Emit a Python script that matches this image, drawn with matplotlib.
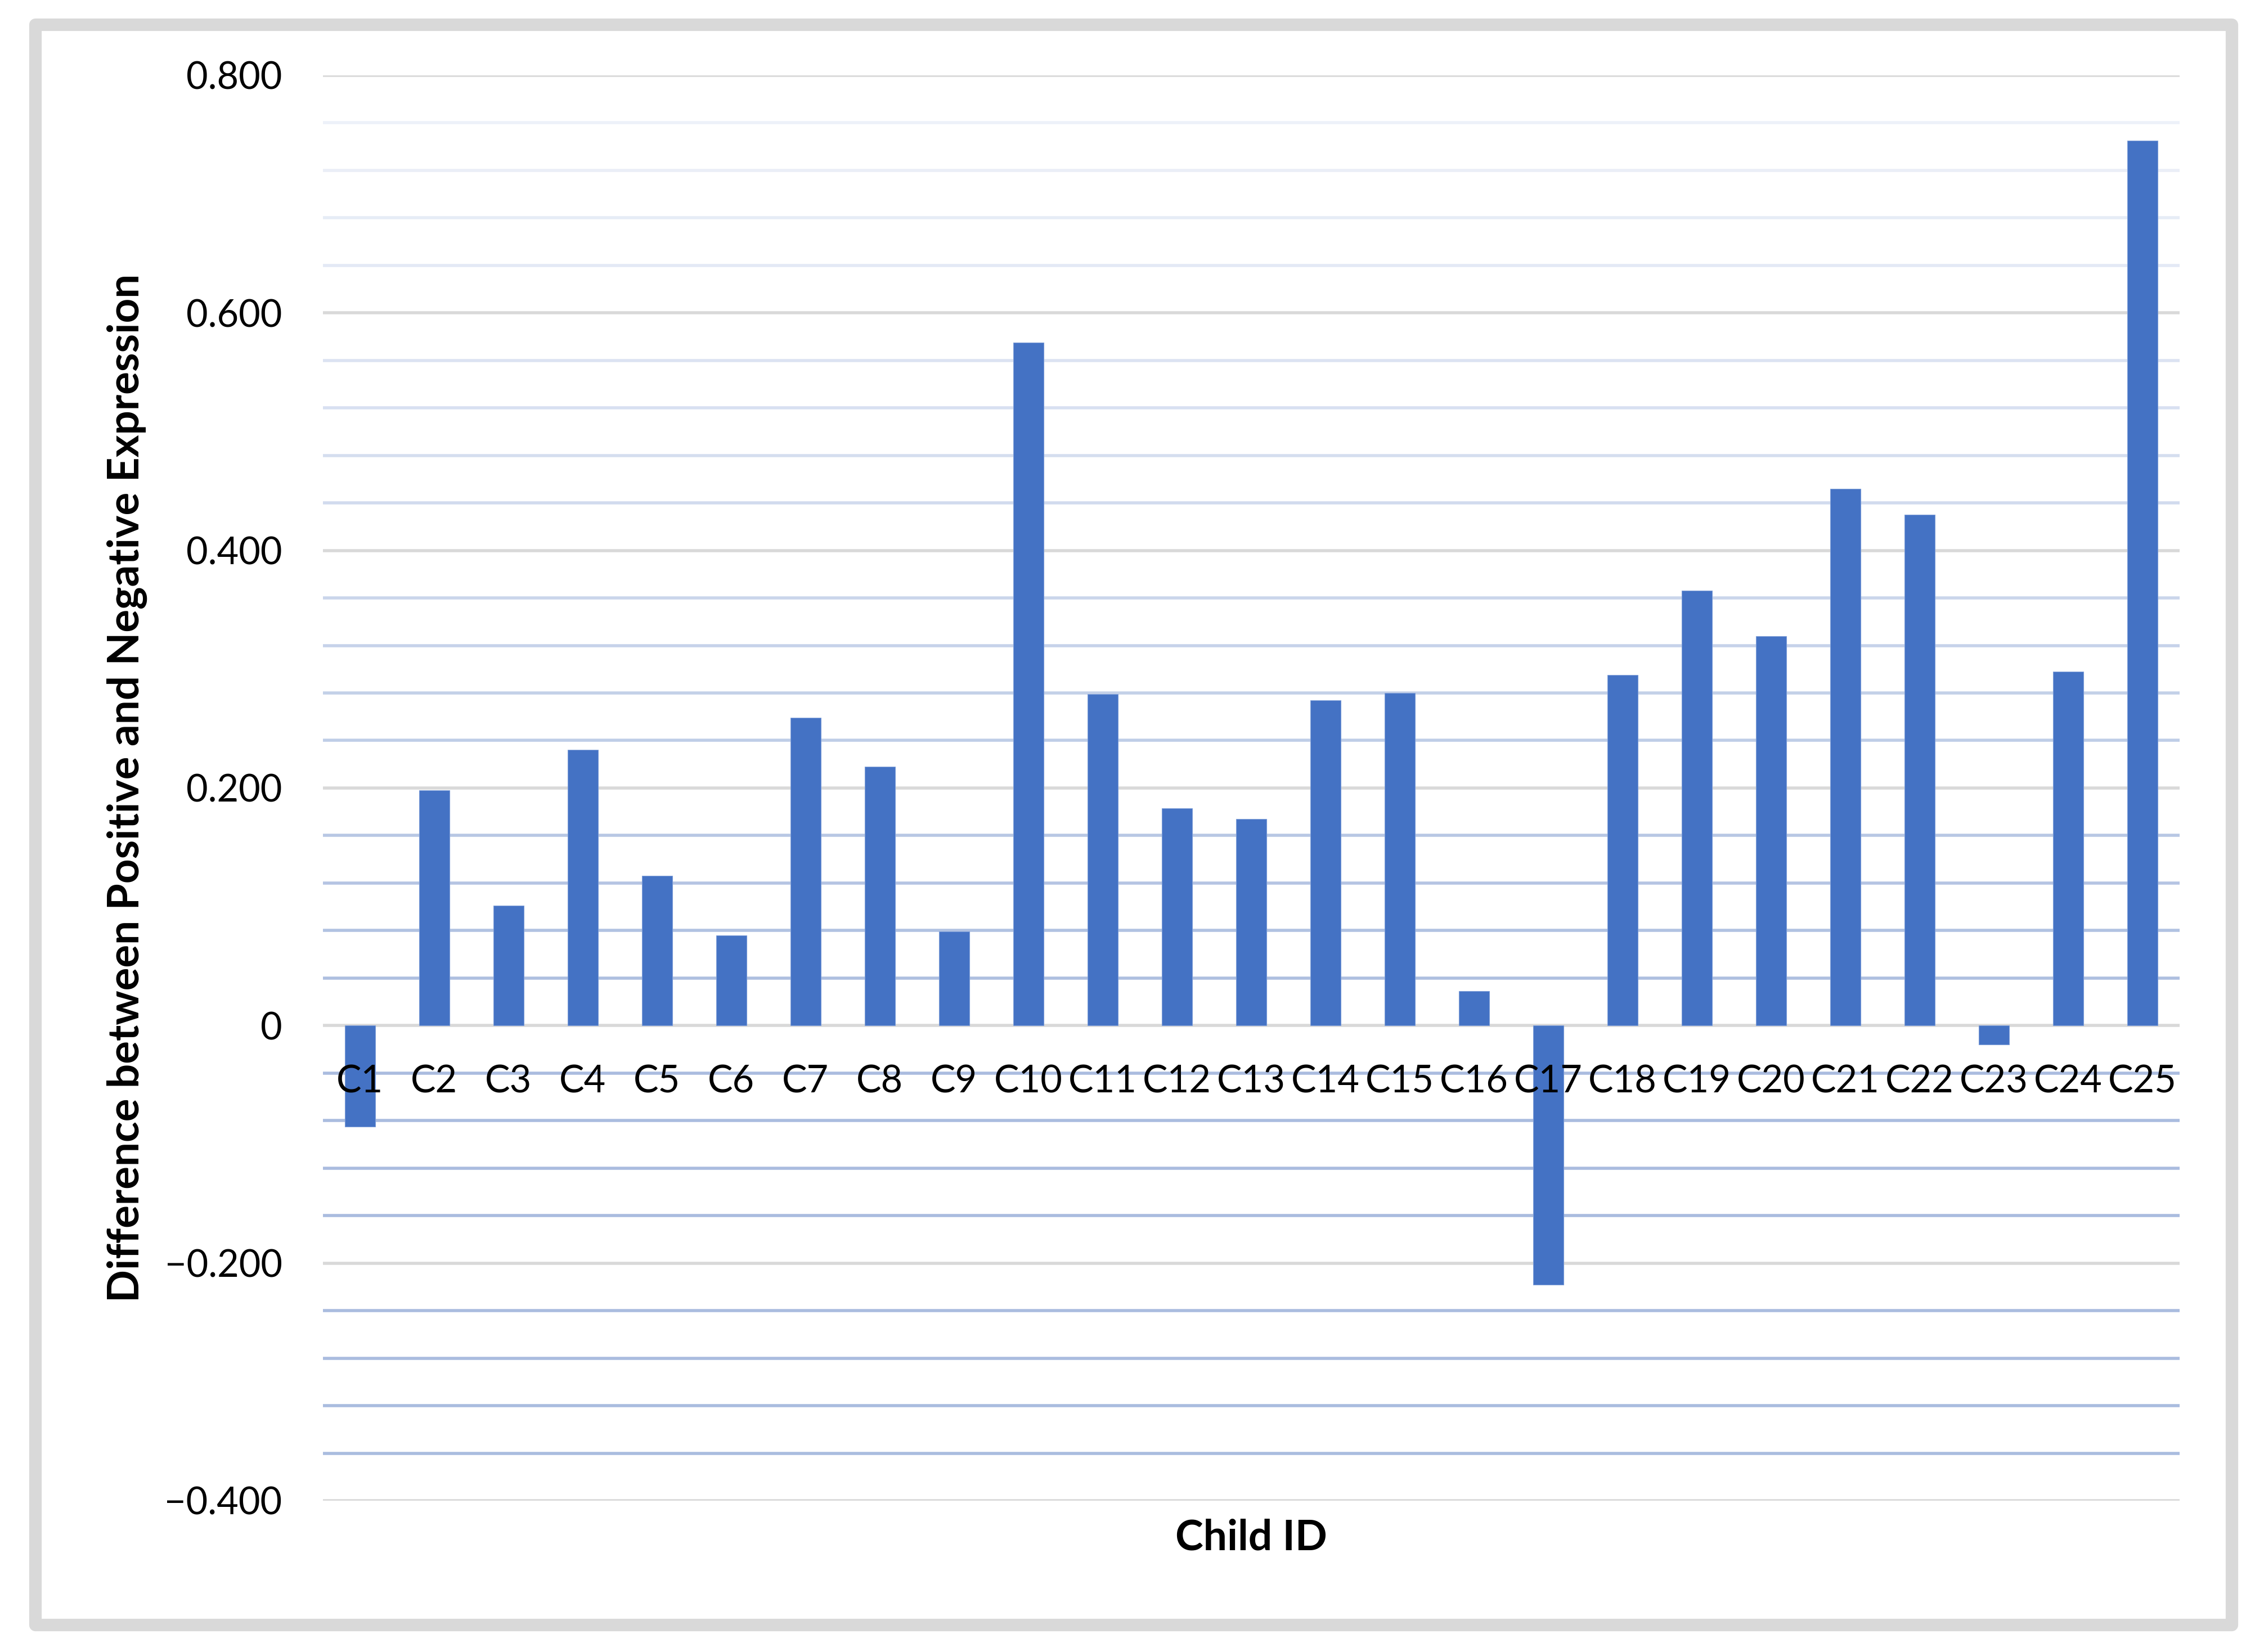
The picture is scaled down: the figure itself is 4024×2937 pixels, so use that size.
import numpy as np
import matplotlib
matplotlib.use("Agg")
import matplotlib.pyplot as plt
from matplotlib.patches import Rectangle
from matplotlib.ticker import MultipleLocator, FuncFormatter
from matplotlib.colors import to_rgb

# data
child_ids = [f"C{i}" for i in range(1, 26)]
differences = [
    -0.085, 0.198, 0.101, 0.232, 0.126, 0.076, 0.259, 0.218, 0.079, 0.575,
    0.279, 0.183, 0.174, 0.274, 0.280, 0.029, -0.218, 0.295, 0.366, 0.328,
    0.452, 0.430, -0.016, 0.298, 0.745,
]
y_ticks = [-0.4, -0.2, 0.0, 0.2, 0.4, 0.6, 0.8]

BAR_COLOR = "#4472C4"
MAJOR_GRID = "#d9d9d9"
MINOR_TOP = "#f1f4fa"
MINOR_BOTTOM = "#aabcdf"

plt.rcParams["font.family"] = ["Lato", "DejaVu Sans"]


def tick_fmt(v, _pos):
    if abs(v) < 1e-9:
        return "0"
    s = f"{abs(v):.3f}"
    return ("\u2212" + s) if v < 0 else s


def minor_color(v):
    # minor grid fades out towards the top of the plot
    t = np.clip((0.8 - v) / 0.8, 0, 1)
    a, b = np.array(to_rgb(MINOR_TOP)), np.array(to_rgb(MINOR_BOTTOM))
    return tuple(a + (b - a) * t)


def main() -> None:
    fig = plt.figure(figsize=(40.24, 29.37), dpi=100)
    ax = fig.add_axes([0.1426, 0.0916, 0.8201, 0.8628])

    x = np.arange(len(child_ids))
    ax.bar(x, differences, width=0.41, color=BAR_COLOR,
           edgecolor="#7f9fd8", linewidth=0.8, zorder=2)

    ax.set_xlim(-0.5, len(child_ids) - 0.5)
    ax.set_ylim(min(y_ticks), max(y_ticks))
    ax.set_yticks(y_ticks)
    ax.yaxis.set_minor_locator(MultipleLocator(0.04))
    ax.yaxis.set_major_formatter(FuncFormatter(tick_fmt))

    # gridlines drawn behind bars
    for v in ax.yaxis.get_minorticklocs():
        ax.axhline(v, color=minor_color(v), linewidth=4.0, zorder=0)
    for v in ax.get_yticks():
        ax.axhline(v, color=MAJOR_GRID, linewidth=4.0, zorder=0.5)

    ax.set_xticks(x)
    ax.set_xticklabels(child_ids)
    ax.spines["bottom"].set_position(("data", 0))
    for side in ["top", "right", "left", "bottom"]:
        ax.spines[side].set_visible(False)
    ax.tick_params(axis="x", length=0, pad=50, labelsize=48, colors="black")
    ax.tick_params(axis="y", which="both", length=0, pad=52, labelsize=48, colors="black")
    ax.xaxis.set_zorder(3)

    ax.text(-0.1055, 0.5, "Difference between Positive and Negative Expression",
            transform=ax.transAxes, rotation=90, ha="center", va="center",
            fontsize=55, fontweight="bold")
    ax.text(0.5, -0.026, "Child ID", transform=ax.transAxes,
            ha="center", va="center", fontsize=54, fontweight="bold")

    # grey chart frame
    frame = Rectangle((0.01566, 0.01634), 0.97014, 0.96866, transform=fig.transFigure,
                      fill=False, edgecolor=MAJOR_GRID, linewidth=16,
                      joinstyle="round", zorder=-1)
    fig.patches.append(frame)

    fig.savefig("out.png", dpi=100, facecolor="white")


if __name__ == "__main__":
    main()
